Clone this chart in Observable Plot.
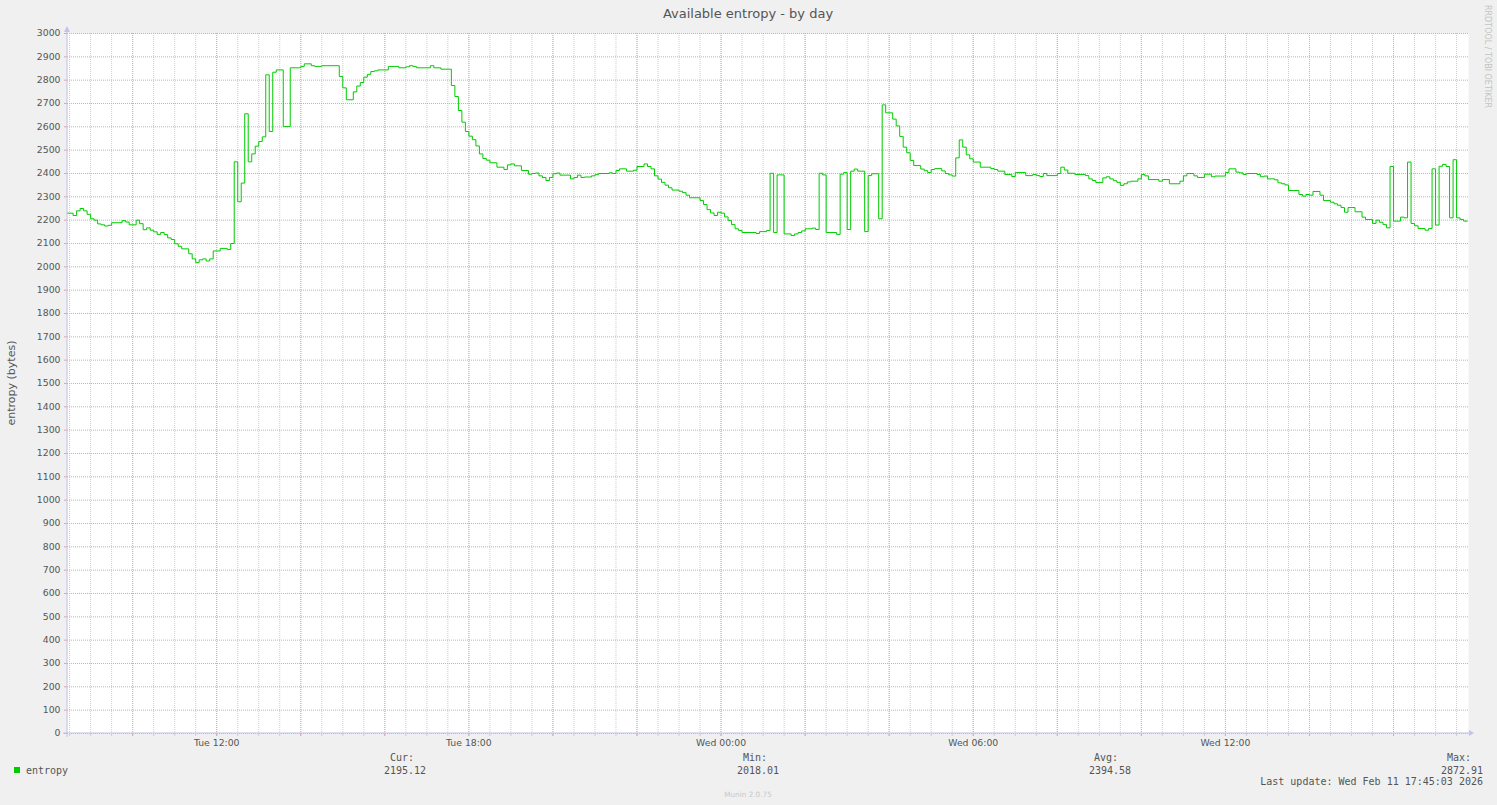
<!DOCTYPE html>
<html><head><meta charset="utf-8">
<script src="https://cdn.jsdelivr.net/npm/d3@7"></script>
<script src="https://cdn.jsdelivr.net/npm/@observablehq/plot@0.6"></script>
<style>
html,body{margin:0;padding:0;background:#f0f0f0;overflow:hidden;}
svg{display:block;}
</style></head><body><div id="chart"></div>
<script>
// minutes since Tue Feb 10 2026 00:00 (sample where a new value starts)
const minutes = [505,515,520,525,530,535,540,545,550,555,560,565,570,585,590,595,605,610,615,620,625,630,635,640,645,650,655,660,665,670,680,685,690,695,700,705,710,715,725,735,740,745,750,755,760,765,770,775,780,785,790,795,800,805,815,825,840,845,855,860,870,895,900,905,915,920,925,930,935,940,945,950,965,980,990,995,1000,1005,1025,1030,1040,1055,1060,1065,1070,1075,1080,1085,1090,1095,1100,1105,1110,1120,1130,1135,1140,1145,1155,1165,1170,1175,1180,1185,1190,1195,1200,1205,1210,1225,1230,1235,1240,1245,1255,1260,1265,1280,1285,1290,1295,1305,1315,1320,1330,1335,1340,1345,1350,1355,1360,1365,1370,1380,1385,1390,1395,1410,1415,1420,1425,1430,1435,1440,1445,1450,1455,1460,1465,1470,1490,1495,1505,1510,1515,1520,1530,1540,1545,1550,1555,1560,1570,1575,1580,1585,1590,1605,1610,1615,1620,1625,1630,1635,1645,1650,1655,1665,1670,1675,1685,1690,1695,1700,1705,1710,1715,1725,1730,1735,1740,1745,1755,1760,1765,1770,1775,1780,1785,1790,1795,1800,1810,1825,1830,1835,1845,1855,1860,1875,1885,1890,1895,1900,1905,1920,1925,1930,1935,1945,1960,1965,1970,1975,1985,1990,1995,2000,2005,2010,2015,2020,2025,2035,2040,2045,2050,2065,2070,2080,2095,2100,2105,2115,2120,2130,2140,2145,2160,2165,2175,2180,2185,2190,2205,2210,2215,2220,2230,2235,2240,2245,2250,2265,2270,2275,2280,2285,2295,2300,2310,2315,2320,2325,2330,2335,2345,2355,2360,2370,2375,2380,2385,2390,2395,2400,2410,2415,2420,2425,2430,2435,2445,2450,2455,2460,2465,2470,2475,2480,2485,2490,2495,2500,2505];
const values = [2230,2220,2240,2250,2240,2225,2206,2200,2184,2180,2175,2178,2189,2198,2192,2180,2200,2185,2159,2167,2157,2150,2139,2147,2138,2124,2117,2099,2088,2077,2056,2034,2018,2030,2034,2025,2034,2068,2079,2074,2100,2450,2279,2359,2656,2450,2484,2517,2537,2557,2823,2580,2834,2844,2601,2853,2859,2870,2862,2859,2862,2816,2767,2716,2750,2775,2790,2813,2825,2837,2840,2844,2859,2853,2857,2862,2859,2853,2862,2853,2847,2777,2730,2670,2620,2580,2560,2545,2518,2484,2464,2457,2446,2427,2417,2437,2441,2433,2413,2397,2400,2402,2390,2383,2370,2383,2399,2402,2393,2377,2383,2393,2383,2385,2390,2395,2400,2403,2400,2413,2420,2410,2414,2430,2441,2430,2420,2390,2376,2362,2350,2339,2329,2324,2318,2307,2296,2284,2267,2245,2231,2220,2234,2230,2214,2199,2181,2163,2156,2147,2143,2151,2156,2401,2147,2394,2141,2134,2141,2147,2154,2163,2166,2160,2401,2394,2147,2139,2397,2404,2160,2410,2419,2410,2151,2391,2399,2206,2694,2660,2633,2604,2559,2513,2489,2456,2434,2419,2412,2404,2417,2421,2411,2400,2394,2389,2467,2544,2513,2480,2463,2449,2427,2421,2417,2410,2396,2387,2404,2391,2396,2391,2387,2400,2391,2400,2427,2415,2401,2396,2391,2377,2370,2361,2381,2386,2377,2369,2362,2349,2356,2364,2367,2377,2396,2390,2374,2367,2374,2356,2367,2390,2400,2390,2383,2397,2386,2389,2404,2420,2406,2403,2396,2400,2396,2386,2389,2377,2373,2360,2356,2351,2327,2310,2303,2310,2307,2323,2307,2284,2277,2270,2264,2254,2234,2254,2236,2213,2203,2186,2200,2191,2181,2167,2430,2196,2213,2210,2449,2186,2176,2164,2157,2164,2420,2179,2431,2439,2430,2210,2459,2210,2203,2196,2195];

const domainMinutes = [507, 2507];
const yTicks = d3.range(0, 3001, 100);
const minorGridMinutes = d3.range(510, 2507, 30);
const majorGridMinutes = d3.range(600, 2507, 120);
const xLabelMinutes = [720, 1080, 1440, 1800, 2160];
const xLabels = ["Tue 12:00", "Tue 18:00", "Wed 00:00", "Wed 06:00", "Wed 12:00"];

const title = "Available entropy - by day";
const yLabel = "entropy (bytes)";
const seriesName = "entropy";
const statNames = ["Cur:", "Min:", "Avg:", "Max:"];
const statValues = ["2195.12", "2018.01", "2394.58", "2872.91"];
const lastUpdate = "Last update: Wed Feb 11 17:45:03 2026";
const footer = "Munin 2.0.75";
const sideText = "RRDTOOL / TOBI OETIKER";

const base = Date.UTC(2026, 1, 10);
const toDate = m => new Date(base + m * 60000);
const data = minutes.map((m, i) => ({t: toDate(m), v: values[i]}));
const labelMap = new Map(xLabelMinutes.map((m, i) => [+toDate(m), xLabels[i]]));

const GREEN = "#00cc00", MGRID = "#e6a3a3", GRID = "#cdcdcd", AXIS = "#c2c2ea", TXT = "#555";

const chart = Plot.plot({
  width: 1497, height: 805,
  marginLeft: 67, marginRight: 29, marginTop: 33, marginBottom: 72,
  style: {background: "#f0f0f0", fontFamily: "DejaVu Sans", fontSize: "9.3px", color: TXT, overflow: "visible"},
  x: {type: "utc", domain: domainMinutes.map(toDate)},
  y: {domain: [0, 3000]},
  marks: [
    Plot.frame({fill: "white", stroke: null}),
    Plot.ruleX(minorGridMinutes.map(toDate), {stroke: GRID, strokeDasharray: "1,1"}),
    Plot.ruleX(majorGridMinutes.map(toDate), {stroke: MGRID, strokeDasharray: "1,1"}),
    Plot.ruleY(yTicks, {stroke: MGRID, strokeDasharray: "1,1"}),
    Plot.line(data, {x: "t", y: "v", stroke: GREEN, strokeWidth: 1, curve: "step-after", clip: true}),
    Plot.axisY({ticks: yTicks, tickSize: 3, tickPadding: 4, stroke: MGRID, label: null, tickFormat: d => String(d)}),
    Plot.axisX({ticks: minorGridMinutes.map(toDate), tickSize: 3, stroke: GRID, tickFormat: () => "", label: null}),
    Plot.axisX({ticks: majorGridMinutes.map(toDate), tickSize: 3, stroke: MGRID, tickFormat: () => "", label: null}),
    Plot.axisX({ticks: xLabelMinutes.map(toDate), tickSize: 0, tickPadding: 6, tickFormat: d => labelMap.get(+d), label: null})
  ]
});
document.getElementById("chart").appendChild(chart);

const svg = d3.select(chart);
const xs = chart.scale("x"), ys = chart.scale("y");
const x0 = xs.range[0], x1 = xs.range[1];
const yBot = ys.apply(0), yTop = ys.apply(3000);

// axis lines with arrows
const ax = svg.append("g");
ax.append("line").attr("x1", x0).attr("x2", x0).attr("y1", yBot + 4).attr("y2", yTop - 4).attr("stroke", AXIS);
ax.append("path").attr("d", `M${x0 - 3},${yTop - 1}L${x0 + 3},${yTop - 1}L${x0},${yTop - 7}Z`).attr("fill", AXIS);
ax.append("line").attr("x1", x0 - 4).attr("x2", x1 + 1).attr("y1", yBot).attr("y2", yBot).attr("stroke", AXIS);
ax.append("path").attr("d", `M${x1 + 1},${yBot - 3}L${x1 + 1},${yBot + 3}L${x1 + 6},${yBot}Z`).attr("fill", AXIS);

const T = svg.append("g").attr("fill", TXT).attr("text-anchor", "start");
T.append("text").attr("x", 748).attr("y", 18).attr("text-anchor", "middle")
  .style("font", "13px 'DejaVu Sans'").text(title);
T.append("text").attr("transform", `translate(15,${(yTop + yBot) / 2}) rotate(-90)`).attr("text-anchor", "middle")
  .style("font", "11px 'DejaVu Sans'").text(yLabel);
T.append("text").attr("transform", "translate(1485,5) rotate(90)").attr("text-anchor", "start").attr("fill", "#c4c4c4")
  .style("font", "8px 'DejaVu Sans'").text(sideText);
T.append("text").attr("x", 748).attr("y", 797).attr("text-anchor", "middle").attr("fill", "#c8c8c8")
  .style("font", "7.3px 'DejaVu Sans'").text(footer);

const mono = "10px 'DejaVu Sans Mono'";
svg.append("rect").attr("x", 14).attr("y", 767).attr("width", 6).attr("height", 6).attr("fill", GREEN);
T.append("text").attr("x", 26).attr("y", 774).attr("text-anchor", "start").style("font", mono).text(seriesName);
const statLabelX = [390, 743, 1094, 1447];
const statValueX = [384, 737, 1089, 1441];
statNames.forEach((s, i) => {
  T.append("text").attr("x", statLabelX[i]).attr("y", 761).attr("text-anchor", "start").style("font", mono).text(s);
  T.append("text").attr("x", statValueX[i]).attr("y", 774).attr("text-anchor", "start").style("font", mono).text(statValues[i]);
});
T.append("text").attr("x", 1483).attr("y", 785).attr("text-anchor", "end").style("font", mono).text(lastUpdate);
</script></body></html>
